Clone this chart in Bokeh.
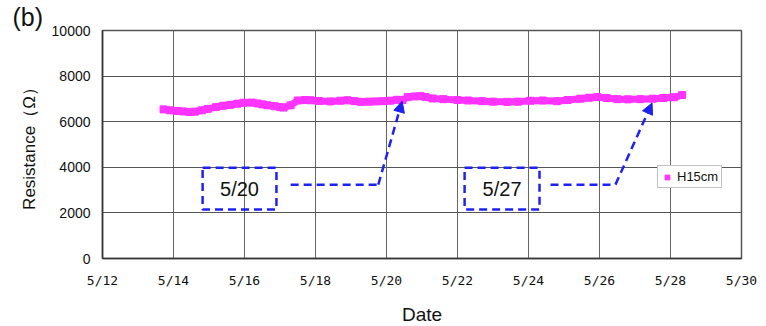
from bokeh.plotting import figure
from bokeh.models import (Range1d, FixedTicker, BoxAnnotation, Arrow, NormalHead,
                          Legend, LegendItem, Label, Title, ColumnDataSource)
from bokeh.embed import file_html
from bokeh.resources import INLINE

# ---- data (day of May, resistance in ohm) ----
days = [13.72, 13.9, 14.1, 14.28, 14.45, 14.6, 14.8, 14.96, 15.2, 15.4, 15.6, 15.8,
        15.97, 16.2, 16.37, 16.5, 16.65, 16.85, 17.0, 17.1, 17.3, 17.5, 17.7, 17.86,
        18.1, 18.42, 18.7, 18.9, 19.1, 19.27, 19.5, 19.7, 19.9, 20.1, 20.3, 20.45,
        20.6, 20.8, 20.96, 21.1, 21.3, 21.6, 22.0, 22.3, 22.7, 23.0, 23.4, 23.7,
        24.05, 24.4, 24.8, 25.1, 25.46, 25.7, 25.94, 26.2, 26.5, 26.8, 27.15, 27.5,
        27.8, 28.1, 28.33]
resistance = [6540, 6500, 6470, 6450, 6430, 6440, 6500, 6560, 6640, 6700, 6740, 6790,
              6830, 6840, 6800, 6760, 6720, 6680, 6640, 6620, 6720, 6930, 6950, 6940,
              6910, 6890, 6920, 6940, 6900, 6870, 6880, 6890, 6900, 6920, 6960, 6950,
              7080, 7110, 7120, 7080, 7020, 6990, 6950, 6930, 6900, 6880, 6870, 6880,
              6920, 6930, 6900, 6950, 7010, 7050, 7080, 7040, 6990, 6980, 6990, 7010,
              7040, 7070, 7170]
series_name = "H15cm"
x_ticks = [12, 14, 16, 18, 20, 22, 24, 26, 28, 30]
x_tick_labels = ["5/12", "5/14", "5/16", "5/18", "5/20", "5/22", "5/24", "5/26", "5/28", "5/30"]
y_ticks = [0, 2000, 4000, 6000, 8000, 10000]
annot_labels = ["5/20", "5/27"]
panel_tag = "(b)"

MAGENTA = "#ff33ff"
BLUE = "#1e22f0"

p = figure(width=766, height=326, frame_width=639, frame_height=228,
           min_border_left=102, min_border_right=25, min_border_top=30, min_border_bottom=68,
           x_range=Range1d(12, 30), y_range=Range1d(0, 10000),
           output_backend="svg", toolbar_location=None,
           background_fill_color="white", border_fill_color="white")

p.outline_line_color = "#555555"
p.outline_line_width = 1.5

p.xaxis.ticker = FixedTicker(ticks=x_ticks)
p.xaxis.major_label_overrides = {t: l for t, l in zip(x_ticks, x_tick_labels)}
p.yaxis.ticker = FixedTicker(ticks=y_ticks)
for ax in (p.xaxis, p.yaxis):
    ax.major_tick_out = 0
    ax.major_tick_in = 0
    ax.minor_tick_out = 0
    ax.minor_tick_in = 0
    ax.axis_line_color = "#333333"
    ax.axis_line_width = 1.5
    ax.major_label_text_color = "#111111"
    ax.axis_label_text_color = "#111111"
    ax.axis_label_text_font_style = "normal"

p.xaxis.major_label_text_font = "DejaVu Sans Mono"
p.xaxis.major_label_text_font_size = "13px"
p.xaxis.major_label_standoff = 14
p.xaxis.axis_label = "Date"
p.xaxis.axis_label_text_font = "Liberation Sans"
p.xaxis.axis_label_text_font_size = "19px"
p.xaxis.axis_label_standoff = 13

p.yaxis.major_label_text_font = "Liberation Sans"
p.yaxis.major_label_text_font_size = "14px"
p.yaxis.major_label_standoff = 12
p.yaxis.axis_label = "Resistance（Ω）"
p.yaxis.axis_label_text_font = "Liberation Sans"
p.yaxis.axis_label_text_font_size = "17px"
p.yaxis.axis_label_standoff = 10

p.xgrid.grid_line_color = "#666666"
p.ygrid.grid_line_color = "#555555"
p.xgrid.grid_line_width = 1
p.ygrid.grid_line_width = 1

src = ColumnDataSource(dict(x=days, y=resistance))
p.line("x", "y", source=src, line_color=MAGENTA, line_width=7, line_join="round")
sq = p.scatter("x", "y", source=src, marker="square", size=7,
               fill_color=MAGENTA, line_color=MAGENTA)

# ---- annotations ----
dash = "8 5"
boxes = [(14.82, 16.9, 2150, 3980), (22.2, 24.31, 2150, 3980)]
for (l, r, b, t), txt in zip(boxes, annot_labels):
    p.add_layout(BoxAnnotation(left=l, right=r, bottom=b, top=t, fill_alpha=0,
                               line_color=BLUE, line_alpha=1.0, line_width=2.5,
                               line_dash=dash))
    p.add_layout(Label(x=(l + r) / 2, y=(b + t) / 2, text=txt, text_align="center",
                       text_baseline="middle", text_font="Liberation Sans",
                       text_font_size="20px", text_color="#111111"))

paths = [((17.3, 19.77), (3240, 3240), (20.44, 6900)),
         ((24.62, 26.45), (3240, 3240), (27.48, 6820))]
for (xs, ys, (xe, ye)) in paths:
    p.line(list(xs), list(ys), line_color=BLUE, line_width=2.5, line_dash=dash)
    p.add_layout(Arrow(x_start=xs[1], y_start=ys[1], x_end=xe, y_end=ye,
                       line_color=BLUE, line_width=2.5, line_dash=dash,
                       end=NormalHead(size=11, fill_color=BLUE, line_color=BLUE)))

# ---- legend ----
legend = Legend(items=[LegendItem(label=series_name, renderers=[sq])],
                location=(555, 70), orientation="vertical",
                label_text_font="Liberation Sans", label_text_font_size="13px",
                label_text_color="#111111",
                border_line_color="#888888", border_line_width=1,
                background_fill_color="white", background_fill_alpha=1,
                padding=3, margin=0, spacing=0, glyph_width=12, glyph_height=14,
                label_standoff=4, label_height=14)
p.add_layout(legend, "center")

# panel tag "(b)" as a left-aligned title pulled into the left margin
p.add_layout(Title(text=panel_tag, align="left", offset=-90, standoff=0,
                   text_line_height=1.0,
                   text_font="Liberation Sans", text_font_size="25px",
                   text_font_style="normal", text_color="#111111"), "above")

open("out.html", "w").write(file_html(p, INLINE))
